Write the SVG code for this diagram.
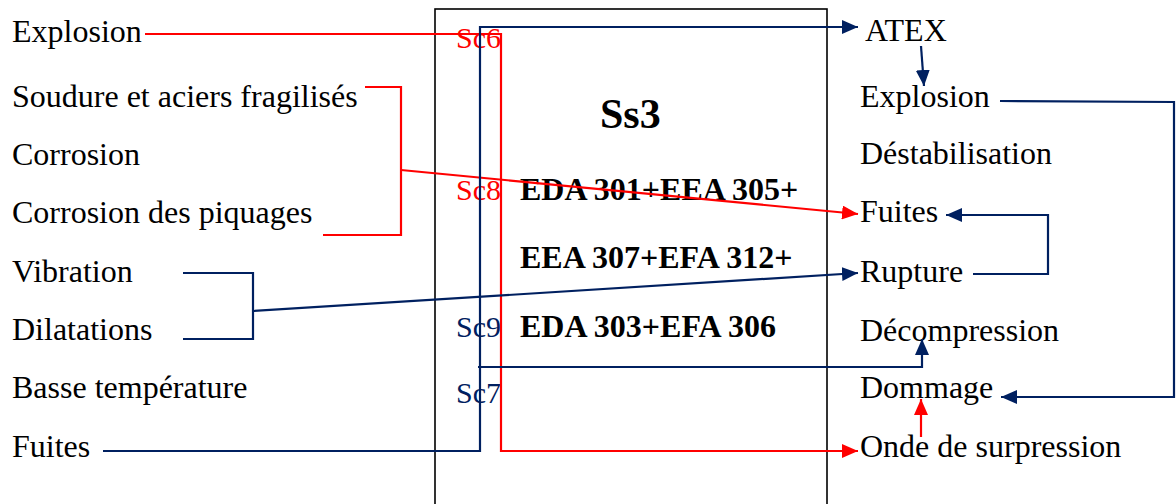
<svg xmlns="http://www.w3.org/2000/svg" width="1176" height="504" viewBox="0 0 1176 504">
<defs>
<style>
.t{font-family:"Liberation Serif","Times New Roman",serif;font-size:32px;fill:#000}
.b{font-family:"Liberation Serif","Times New Roman",serif;font-weight:bold;font-size:32px;fill:#000}
.sr{font-family:"Liberation Serif","Times New Roman",serif;font-size:30px;fill:#FF0000}
.sb{font-family:"Liberation Serif","Times New Roman",serif;font-size:30px;fill:#002060}
.r{fill:none;stroke:#FF0000;stroke-width:2.2}
.n{fill:none;stroke:#002060;stroke-width:2.2}
</style>
<marker id="ar" markerUnits="userSpaceOnUse" markerWidth="18" markerHeight="14" refX="16" refY="7" orient="auto"><path d="M0,0 L16,7 L0,14 z" fill="#FF0000"/></marker>
<marker id="an" markerUnits="userSpaceOnUse" markerWidth="18" markerHeight="14" refX="16" refY="7" orient="auto"><path d="M0,0 L16,7 L0,14 z" fill="#002060"/></marker>
</defs>
<rect width="1176" height="504" fill="#fff"/>
<g id="box">
<rect x="435" y="9" width="392" height="520" fill="none" stroke="#000" stroke-width="1.6"/>
<text class="b" x="600" y="128" style="font-size:42px">Ss3</text>
<text class="b" x="520" y="200">EDA 301+EEA 305+</text>
<text class="b" x="520" y="268">EEA 307+EFA 312+</text>
<text class="b" x="520" y="337">EDA 303+EFA 306</text>
<text class="sr" x="456" y="48">Sc6</text>
<text class="sr" x="456" y="200">Sc8</text>
<text class="sb" x="456" y="337">Sc9</text>
<text class="sb" x="456" y="403">Sc7</text>
</g>
<g id="causes">
<text id="c-explosion" class="t" x="12" y="42">Explosion</text>
<text id="c-soudure" class="t" x="12" y="107">Soudure et aciers fragilisés</text>
<text id="c-corrosion" class="t" x="12" y="165">Corrosion</text>
<text id="c-piquages" class="t" x="12" y="223">Corrosion des piquages</text>
<text id="c-vibration" class="t" x="12" y="282">Vibration</text>
<text id="c-dilatations" class="t" x="12" y="340">Dilatations</text>
<text id="c-basse" class="t" x="12" y="398">Basse température</text>
<text id="c-fuites" class="t" x="12" y="457">Fuites</text>
</g>
<g id="effects">
<text id="e-atex" class="t" x="865" y="41">ATEX</text>
<text id="e-explosion" class="t" x="860" y="107">Explosion</text>
<text id="e-destab" class="t" x="860" y="164">Déstabilisation</text>
<text id="e-fuites" class="t" x="860" y="222">Fuites</text>
<text id="e-rupture" class="t" x="860" y="282">Rupture</text>
<text id="e-decomp" class="t" x="860" y="341">Décompression</text>
<text id="e-dommage" class="t" x="860" y="398">Dommage</text>
<text id="e-onde" class="t" x="860" y="457">Onde de surpression</text>
</g>
<g id="connectors">
<polyline class="r" points="145,34 501,34 501,451 858,451" marker-end="url(#ar)"/>
<polyline class="r" points="365,87 401,87 401,235 323,235"/>
<line class="r" x1="401" y1="170" x2="858" y2="214" marker-end="url(#ar)"/>
<line class="r" x1="921" y1="437" x2="921" y2="399" marker-end="url(#ar)"/>
<polyline class="n" points="103,451 480,451 480,27 858,27" marker-end="url(#an)"/>
<polyline class="n" points="478,367 922,367 922,339" marker-end="url(#an)"/>
<line class="n" x1="921" y1="46" x2="924" y2="86" marker-end="url(#an)"/>
<polyline class="n" points="183,273 253,273 253,339 183,339"/>
<line class="n" x1="253" y1="311" x2="858" y2="273" marker-end="url(#an)"/>
<polyline class="n" points="973,274 1048,274 1048,215 946,215" marker-end="url(#an)"/>
<polyline class="n" points="1000,101 1174,102 1174,397 1001,397" marker-end="url(#an)"/>
</g>
</svg>
